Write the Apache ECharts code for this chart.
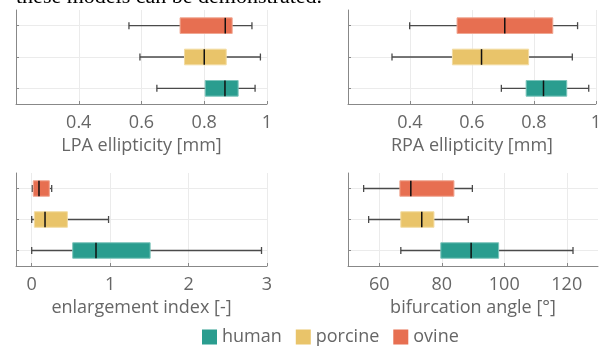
<!DOCTYPE html>
<html>
<head>
<meta charset="utf-8">
<script src="https://cdn.jsdelivr.net/npm/echarts@6/dist/echarts.min.js"></script>
<style>
  html, body { margin: 0; padding: 0; background: #fff; }
  #chart { width: 604px; height: 347px; }
</style>
</head>
<body>
<div id="chart"></div>
<script>
  // species, bottom to top
  const species = ['human', 'porcine', 'ovine']
  const colors = ['#2a9d8f', '#e9c46a', '#e76f51']
  const borders = ['#7cc4bb', '#f3dca2', '#f0a792']

  // [low whisker, q1, median, q3, high whisker] per species
  const lpaStats = [
    [0.649, 0.803, 0.866, 0.908, 0.962],
    [0.595, 0.737, 0.800, 0.870, 0.979],
    [0.560, 0.723, 0.867, 0.889, 0.952]
  ]
  const rpaStats = [
    [0.695, 0.775, 0.831, 0.906, 0.977],
    [0.342, 0.537, 0.631, 0.783, 0.924],
    [0.399, 0.552, 0.706, 0.861, 0.941]
  ]
  const enlargementStats = [
    [0.00, 0.523, 0.82, 1.51, 2.93],
    [0.00, 0.034, 0.17, 0.455, 0.98],
    [0.008, 0.02, 0.093, 0.225, 0.255]
  ]
  const angleStats = [
    [66.9, 79.7, 89.4, 98.2, 122.0],
    [56.6, 66.9, 73.6, 77.5, 88.5],
    [55.0, 66.6, 70.1, 83.9, 89.8]
  ]

  const ellipticityTicks = [0.4, 0.6, 0.8, 1]
  const enlargementTicks = [0, 1, 2, 3]
  const angleTicks = [60, 80, 100, 120]

  const panels = [
    { name: 'LPA ellipticity [mm]', stats: lpaStats, min: 0.2, max: 1, ticks: ellipticityTicks },
    { name: 'RPA ellipticity [mm]', stats: rpaStats, min: 0.2, max: 1, ticks: ellipticityTicks },
    { name: 'enlargement index [-]', stats: enlargementStats, min: -0.2, max: 3, ticks: enlargementTicks },
    { name: 'bifurcation angle [°]', stats: angleStats, min: 50, max: 130, ticks: angleTicks }
  ]

  const font = 'Open Sans'
  const textColor = '#666'

  const grids = [
    { left: 16, top: 10, width: 251, height: 94 },
    { left: 348, top: 10, width: 250, height: 94 },
    { left: 16, top: 173, width: 251, height: 93 },
    { left: 348, top: 173, width: 250, height: 93 }
  ]

  function renderBox (params, api) {
    const y = api.value(0)
    const low = api.coord([api.value(1), y])
    const q1 = api.coord([api.value(2), y])
    const med = api.coord([api.value(3), y])
    const q3 = api.coord([api.value(4), y])
    const high = api.coord([api.value(5), y])
    const band = api.size([0, 1])[1]
    const h = band * 0.5
    const cap = 3.5
    const cy = low[1]
    const whisker = { stroke: '#4a4a4a', lineWidth: 1.3 }
    const idx = params.seriesIndex % 3
    return {
      type: 'group',
      children: [
        { type: 'line', shape: { x1: low[0], y1: cy, x2: high[0], y2: cy }, style: whisker },
        { type: 'line', shape: { x1: low[0], y1: cy - cap, x2: low[0], y2: cy + cap }, style: whisker },
        { type: 'line', shape: { x1: high[0], y1: cy - cap, x2: high[0], y2: cy + cap }, style: whisker },
        {
          type: 'rect',
          shape: { x: q1[0], y: cy - h / 2, width: q3[0] - q1[0], height: h },
          style: { fill: colors[idx], stroke: borders[idx], lineWidth: 1 }
        },
        { type: 'line', shape: { x1: med[0], y1: cy - h / 2, x2: med[0], y2: cy + h / 2 }, style: { stroke: '#111', lineWidth: 1.5 } }
      ]
    }
  }

  const xAxes = panels.map((p, i) => ({
    type: 'value',
    gridIndex: i,
    min: p.min,
    max: p.max,
    name: p.name,
    nameLocation: 'middle',
    nameGap: 33,
    nameTextStyle: { fontFamily: font, fontSize: 18, color: textColor },
    axisLine: { show: true, onZero: false, lineStyle: { color: '#888' } },
    axisTick: { show: true, inside: true, length: 3, customValues: p.ticks, lineStyle: { color: '#888' } },
    axisLabel: { customValues: p.ticks, margin: 10, fontFamily: font, fontSize: 18, color: textColor },
    splitLine: { show: true, lineStyle: { color: '#ebebeb' } }
  }))

  const yAxes = panels.map((p, i) => ({
    type: 'value',
    gridIndex: i,
    min: -0.5,
    max: 2.5,
    axisLine: { show: true, onZero: false, lineStyle: { color: '#888' } },
    axisTick: { show: true, inside: true, length: 3, customValues: [0, 1, 2], lineStyle: { color: '#888' } },
    axisLabel: { show: false, customValues: [0, 1, 2] },
    splitLine: { show: true, lineStyle: { color: '#ebebeb' } }
  }))

  const series = []
  panels.forEach((p, i) => {
    species.forEach((s, k) => {
      series.push({
        type: 'custom',
        name: s,
        xAxisIndex: i,
        yAxisIndex: i,
        itemStyle: { color: colors[k] },
        renderItem: renderBox,
        encode: { x: [1, 2, 3, 4, 5], y: 0 },
        data: [[k].concat(p.stats[k])]
      })
    })
  })

  const chart = echarts.init(document.getElementById('chart'))
  chart.setOption({
    animation: false,
    graphic: [{
      type: 'text',
      left: 16,
      top: -14,
      style: { text: 'these models can be demonstrated.', font: '22px "Liberation Serif"', fill: '#000' }
    }],
    legend: {
      data: species,
      left: 197,
      top: 323,
      icon: 'rect',
      itemWidth: 15,
      itemHeight: 15,
      itemGap: 14,
      textStyle: { fontFamily: font, fontSize: 18, color: textColor }
    },
    grid: grids,
    xAxis: xAxes,
    yAxis: yAxes,
    series: series
  })
</script>
</body>
</html>
